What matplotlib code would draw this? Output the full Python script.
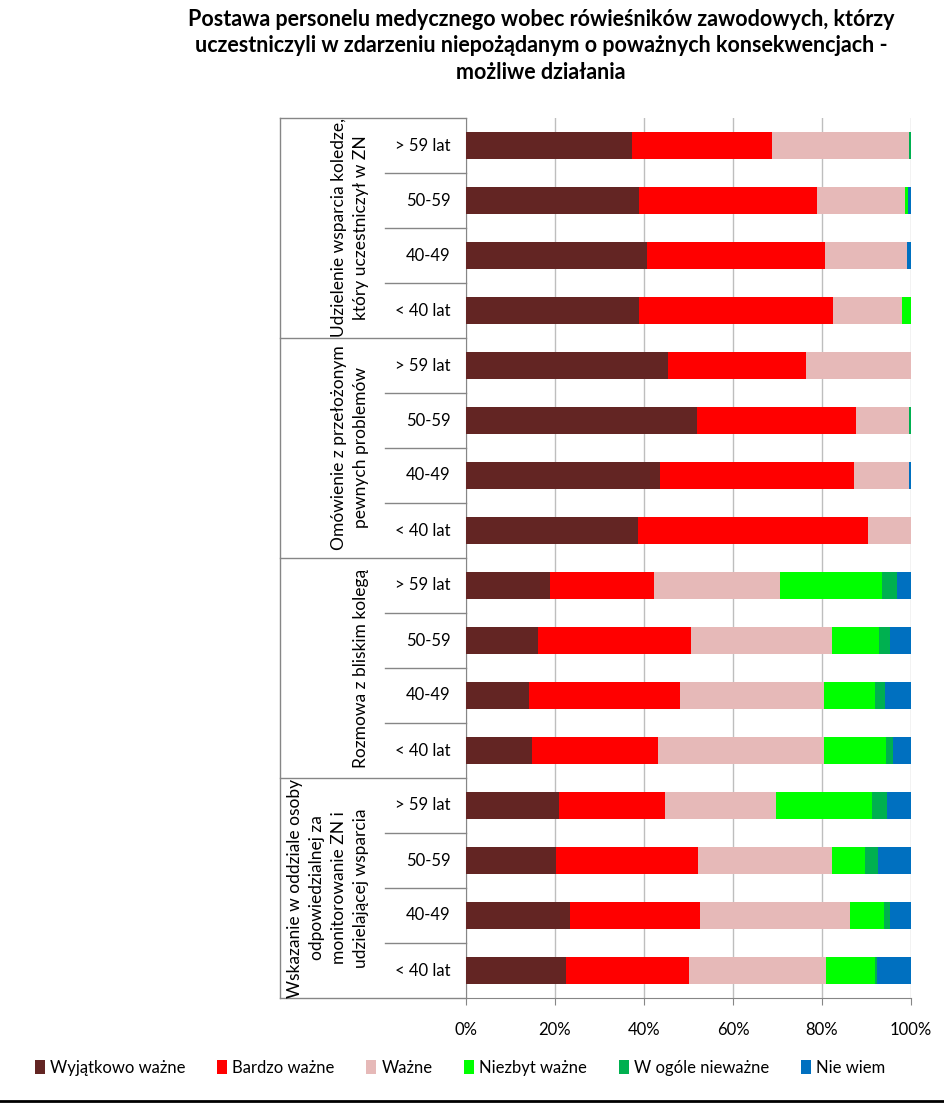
import numpy as np
import matplotlib.pyplot as plt
from matplotlib.lines import Line2D
from matplotlib.patches import Patch

plt.rcParams['font.family'] = ['Lato', 'DejaVu Sans']

title = ('Postawa personelu medycznego wobec rówieśników zawodowych, którzy\n'
         'uczestniczyli w zdarzeniu niepożądanym o poważnych konsekwencjach -\n'
         'możliwe działania')

groups = ['Udzielenie wsparcia koledze,\nktóry uczestniczył w ZN',
          'Omówienie z przełożonym\npewnych problemów',
          'Rozmowa z bliskim kolegą',
          'Wskazanie w oddziale osoby\nodpowiedzialnej za\nmonitorowanie ZN i\nudzielającej wsparcia']
ages = ['> 59 lat', '50-59', '40-49', '< 40 lat']

series = ['Wyjątkowo ważne', 'Bardzo ważne', 'Ważne', 'Niezbyt ważne',
          'W ogóle nieważne', 'Nie wiem']
colors = ['#632523', '#FF0000', '#E6B9B8', '#00FF00', '#00B050', '#0070C0']

# percent values, bars top to bottom
wyjatkowo = [37.3, 38.9, 40.7, 38.9, 45.4, 51.9, 43.6, 38.7,
             18.9, 16.2, 14.2, 14.8, 20.9, 20.2, 23.4, 22.5]
bardzo = [31.5, 40.0, 40.0, 43.6, 31.0, 35.7, 43.6, 51.6,
          23.3, 34.4, 33.9, 28.3, 23.8, 31.9, 29.2, 27.6]
wazne = [30.7, 19.8, 18.3, 15.5, 23.6, 12.0, 12.3, 9.7,
         28.4, 31.6, 32.3, 37.3, 25.0, 30.1, 33.7, 30.9]
niezbyt = [0, 0.6, 0, 2.0, 0, 0, 0, 0,
           22.9, 10.6, 11.5, 14.0, 21.5, 7.5, 7.7, 10.8]
wogole = [0.5, 0, 0, 0, 0, 0.4, 0, 0,
          3.4, 2.5, 2.3, 1.6, 3.4, 2.8, 1.3, 0.5]
niewiem = [0, 0.7, 1.0, 0, 0, 0, 0.5, 0,
           3.1, 4.7, 5.8, 4.0, 5.4, 7.5, 4.7, 7.7]

data = [wyjatkowo, bardzo, wazne, niezbyt, wogole, niewiem]

W, H = 945, 1105
fig = plt.figure(figsize=(W / 100, H / 100), dpi=100)
ax = fig.add_axes([466 / W, 1 - 998 / H, 445 / W, 880 / H])

y = np.arange(16)
left = np.zeros(16)
for vals, c, name in zip(data, colors, series):
    vals = np.array(vals)
    ax.barh(y, vals, left=left, height=0.5, color=c, label=name, zorder=3)
    left += vals

ax.set_xlim(0, 100)
ax.set_ylim(15.5, -0.5)
ax.set_xticks([0, 20, 40, 60, 80, 100])
ax.set_xticklabels(['0%', '20%', '40%', '60%', '80%', '100%'], fontsize=12)
ax.set_yticks([])
ax.grid(axis='x', color='#BEBEBE', linewidth=1, zorder=0)
for s in ['top', 'right']:
    ax.spines[s].set_visible(False)
ax.spines['left'].set_color('#868686')
ax.spines['bottom'].set_color('#868686')
ax.tick_params(axis='x', direction='out', length=5, color='#868686', pad=12)

# category labels
for i in range(16):
    ax.text(-0.035, i, ages[i % 4], transform=ax.get_yaxis_transform(),
            ha='right', va='center', fontsize=12)

def fline(x0, x1, y0, y1, c='#868686', lw=1):
    fig.add_artist(Line2D([x0 / W, x1 / W], [1 - y0 / H, 1 - y1 / H],
                          color=c, linewidth=lw))

# separators
for i in range(17):
    yy = 118 + 55 * i
    if i % 4 == 0:
        fline(280, 466, yy, yy)
    else:
        fline(385, 466, yy, yy)
fline(280, 280, 118, 998)

# group labels
for g, name in enumerate(groups):
    yc = 118 + 220 * g + 110
    fig.text(369 / W, 1 - yc / H, name, rotation=90, ha='right', va='center',
             multialignment='center', fontsize=12.5, linespacing=1.45)

fig.text(541 / W, 1 - 46 / H, title, ha='center', va='center',
         fontsize=15.5, fontweight='bold', linespacing=1.35)

handles = [Patch(facecolor=c, label=s) for c, s in zip(colors, series)]
fig.legend(handles=handles, loc='center', bbox_to_anchor=(460 / W, 1 - 1068 / H),
           ncol=6, frameon=False, fontsize=12, handlelength=0.6,
           handleheight=0.9, handletextpad=0.3, columnspacing=1.9)

fline(0, W, 1101, 1101, c='black', lw=2)

fig.savefig('out.png', dpi=100)
